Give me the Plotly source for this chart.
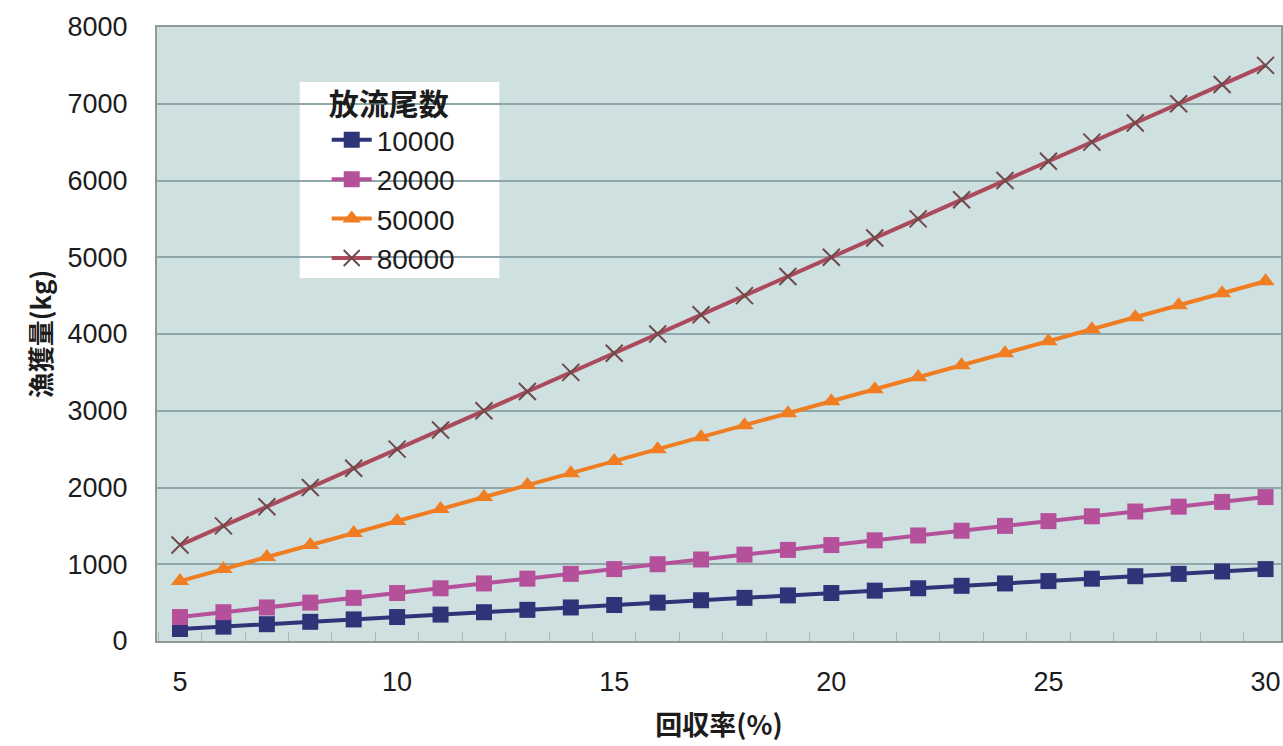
import plotly.graph_objects as go

# 回収率 (%)
recovery_rate = list(range(5, 31))

# 漁獲量 (kg) for each 放流尾数
catch_10000 = [156, 187, 219, 250, 281, 312, 344, 375, 406, 437, 469, 500, 531,
               562, 594, 625, 656, 687, 719, 750, 781, 812, 844, 875, 906, 937]
catch_20000 = [312, 375, 437, 500, 562, 625, 687, 750, 812, 875, 937, 1000, 1062,
               1125, 1187, 1250, 1312, 1375, 1437, 1500, 1562, 1625, 1687, 1750, 1812, 1875]
catch_50000 = [781, 937, 1094, 1250, 1406, 1562, 1719, 1875, 2031, 2187, 2344, 2500, 2656,
               2812, 2969, 3125, 3281, 3437, 3594, 3750, 3906, 4062, 4219, 4375, 4531, 4687]
catch_80000 = [1250, 1500, 1750, 2000, 2250, 2500, 2750, 3000, 3250, 3500, 3750, 4000, 4250,
               4500, 4750, 5000, 5250, 5500, 5750, 6000, 6250, 6500, 6750, 7000, 7250, 7500]

series_names = ["10000", "20000", "50000", "80000"]
x_tick_values = [5, 10, 15, 20, 25, 30]
y_tick_values = [0, 1000, 2000, 3000, 4000, 5000, 6000, 7000, 8000]

styles = [
    dict(line="#2f3378", marker="#2f3378", symbol="square", size=16),
    dict(line="#b5509a", marker="#b5509a", symbol="square", size=16),
    dict(line="#f07d22", marker="#f07d22", symbol="triangle-up", size=16),
    dict(line="#ab4a5c", marker="#6e4a4a", symbol="x-thin", size=17),
]

fig = go.Figure()
for name, values, st in zip(series_names, [catch_10000, catch_20000, catch_50000, catch_80000], styles):
    marker = dict(color=st["marker"], symbol=st["symbol"], size=st["size"])
    if st["symbol"] == "x-thin":
        marker["line"] = dict(color=st["marker"], width=2)
    fig.add_trace(go.Scatter(
        x=recovery_rate, y=values, name=name, mode="lines+markers",
        line=dict(color=st["line"], width=4), marker=marker,
    ))

latin = "Liberation Sans, Arial, sans-serif"
cjk = "Noto Sans CJK JP, sans-serif"
ink = "#1c1c1c"
tick_font = dict(family=latin, size=27, color=ink)

# white panel behind the legend, drawn over the gridlines
fig.add_shape(type="rect", xref="paper", yref="paper",
              x0=0.127, x1=0.3046, y0=0.5912, y1=0.9104,
              fillcolor="white", line=dict(width=0), layer="between")

fig.update_layout(
    width=1283, height=746,
    margin=dict(l=157, r=0, t=27, b=105),
    paper_bgcolor="white",
    plot_bgcolor="#cfe0e1",
    showlegend=True,
    legend=dict(
        title=dict(text="<b>放流尾数</b>", font=dict(family=cjk, size=30, color=ink)),
        font=dict(family=latin, size=28, color=ink),
        bgcolor="rgba(0,0,0,0)", borderwidth=0,
        x=0.151, y=0.92, xanchor="left", yanchor="top",
        itemwidth=40, tracegroupgap=0,
    ),
    xaxis=dict(
        range=[4.47, 30.356], tickvals=x_tick_values, ticks="",
        tickfont=tick_font, showgrid=False, zeroline=False,
        showline=True, linecolor="#8f9a9a", linewidth=2, mirror=True,
        ticklabelstandoff=16,
        minor=dict(ticks="inside", tick0=4.5, dtick=1, ticklen=9,
                   tickcolor="#a9b8b8", tickwidth=1, showgrid=False),
        title=dict(text="<b>回収率(%)</b>", font=dict(family=cjk, size=27, color=ink), standoff=20),
    ),
    yaxis=dict(
        range=[0, 8000], tickvals=y_tick_values, ticks="",
        tickfont=tick_font, showgrid=True, gridcolor="#8fa6aa", gridwidth=1.5,
        zeroline=False, showline=True, linecolor="#8f9a9a", linewidth=2, mirror=True,
        ticklabelstandoff=22,
        title=dict(text="<b>漁獲量(kg)</b>", font=dict(family=cjk, size=26, color=ink), standoff=8),
    ),
)

fig.write_html("out.html")
